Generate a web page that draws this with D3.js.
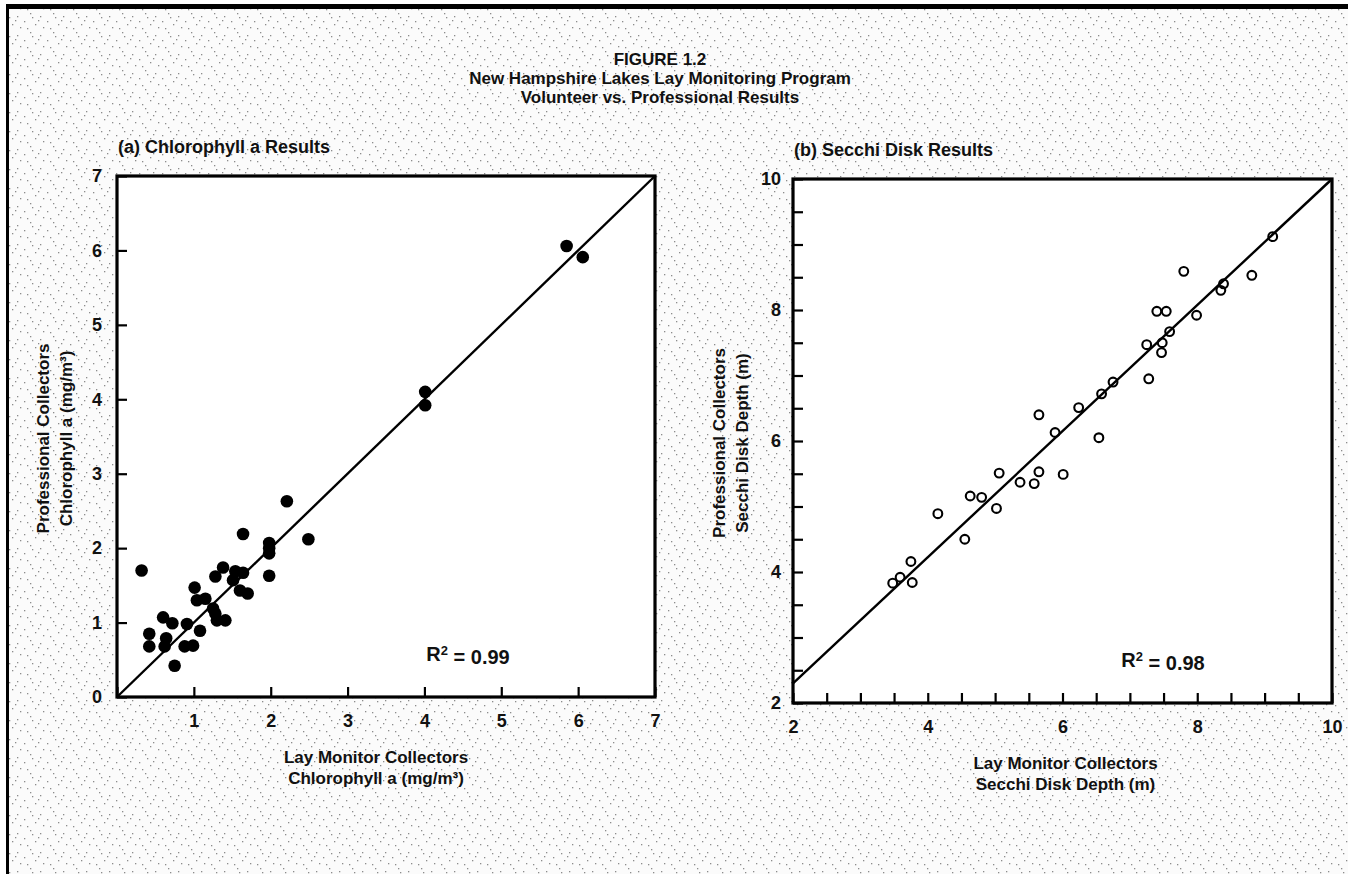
<!DOCTYPE html>
<html>
<head>
<meta charset="utf-8">
<script src="https://cdn.jsdelivr.net/npm/d3@7"></script>
<style>
  body { margin: 0; background: #fff; }
  svg text { font-family: "Liberation Sans Narrow", "Arial Narrow", "Liberation Sans", sans-serif; font-weight: bold; fill: #111; }
</style>
</head>
<body>
<div id="chart"></div>
<script>
/* values */

// (a) chlorophyll a, mg/m3
var chlLay = [0.32, 0.42, 0.42, 0.60, 0.72, 0.64, 0.62, 0.75, 0.91, 0.88, 0.99, 1.08, 1.01, 1.04, 1.15,
              1.25, 1.28, 1.30, 1.41, 1.28, 1.38, 1.51, 1.54, 1.64, 1.60, 1.70, 1.64, 1.98, 1.98, 1.98,
              1.98, 2.21, 2.49, 4.01, 4.01, 5.85, 6.06];
var chlPro = [1.70, 0.85, 0.68, 1.07, 0.99, 0.79, 0.68, 0.42, 0.98, 0.68, 0.69, 0.89, 1.47, 1.30, 1.32,
              1.19, 1.12, 1.03, 1.03, 1.62, 1.74, 1.57, 1.69, 1.67, 1.43, 1.39, 2.19, 2.07, 2.00, 1.93,
              1.63, 2.63, 2.12, 4.10, 3.92, 6.06, 5.91];

// (b) secchi disk depth, m
var secLay = [3.48, 3.59, 3.77, 3.75, 4.15, 4.55, 4.63, 4.80, 5.02, 5.06, 5.37, 5.58, 5.65, 6.01, 5.65,
              5.89, 6.24, 6.54, 6.58, 6.75, 7.28, 7.25, 7.47, 7.48, 7.59, 7.40, 7.54, 7.99, 7.80, 8.35,
              8.39, 8.81, 9.12];
var secPro = [3.83, 3.92, 3.84, 4.16, 4.89, 4.50, 5.16, 5.14, 4.97, 5.51, 5.37, 5.35, 5.53, 5.49, 6.40,
              6.13, 6.51, 6.05, 6.72, 6.90, 6.95, 7.47, 7.35, 7.50, 7.67, 7.98, 7.98, 7.92, 8.59, 8.30,
              8.40, 8.53, 9.12];

// fitted lines, [x0, y0, x1, y1]
var chlFit = [0, 0, 7, 7];
var secFit = [2, 2.3, 10, 10];

var chlTicks = [0, 1, 2, 3, 4, 5, 6, 7];
var secTicks = [2, 2.5, 3, 3.5, 4, 4.5, 5, 5.5, 6, 6.5, 7, 7.5, 8, 8.5, 9, 9.5, 10];
var secLabels = [2, 4, 6, 8, 10];

var titleLines = ['FIGURE 1.2', 'New Hampshire Lakes Lay Monitoring Program', 'Volunteer vs. Professional Results'];

var width = 1348,
    height = 874;

var svg = d3.select('#chart')
  .append('svg')
  .attr('width', width)
  .attr('height', height);

/* speckled paper of the scan */
var pat = svg.append('defs')
  .append('pattern')
  .attr('id', 'speck')
  .attr('width', 23)
  .attr('height', 19)
  .attr('patternUnits', 'userSpaceOnUse');

pat.append('rect').attr('width', 23).attr('height', 19).style('fill', '#fbfbfb');
[[1, 2], [7, 13], [12, 5], [17, 16], [20, 8], [4, 9], [15, 1], [9, 17]].forEach(function(d){
  pat.append('rect')
    .attr('x', d[0]).attr('y', d[1])
    .attr('width', 1.3).attr('height', 1.3)
    .style('fill', '#8c8c8c');
});

svg.append('rect')
  .attr('x', 8).attr('y', 7)
  .attr('width', width - 8).attr('height', height - 7)
  .style('fill', 'url(#speck)');

// page border: heavy rule on top, thin one on the left
svg.append('rect').attr('x', 6).attr('y', 4).attr('width', width - 6).attr('height', 5).style('fill', '#000');
svg.append('rect').attr('x', 6).attr('y', 4).attr('width', 3).attr('height', height - 4).style('fill', '#000');

svg.selectAll('.title')
  .data(titleLines)
  .enter()
  .append('text')
  .attr('class', 'title')
  .attr('x', 660)
  .attr('y', function(d, i){ return 65 + i * 19; })
  .attr('text-anchor', 'middle')
  .style('font-size', '17px')
  .text(function(d){ return d; });

/* one panel */
function drawPanel(opt) {
  var x = d3.scaleLinear().domain(opt.domain).range([opt.l, opt.r]);
  var y = d3.scaleLinear().domain(opt.domain).range([opt.b, opt.t]);

  var g = svg.append('g');

  g.append('text')
    .attr('x', opt.l + 1)
    .attr('y', opt.t - 23)
    .style('font-size', '18px')
    .text(opt.heading);

  g.append('rect')
    .attr('x', opt.l).attr('y', opt.t)
    .attr('width', opt.r - opt.l).attr('height', opt.b - opt.t)
    .style('fill', '#fff');

  var xAxis = d3.axisBottom(x)
    .tickValues(opt.ticks)
    .tickSizeInner(-10)
    .tickSizeOuter(0)
    .tickPadding(17)
    .tickFormat(opt.xFormat);

  var yAxis = d3.axisLeft(y)
    .tickValues(opt.ticks)
    .tickSizeInner(-10)
    .tickSizeOuter(0)
    .tickPadding(opt.yPad)
    .tickFormat(opt.yFormat);

  var gx = g.append('g')
    .attr('transform', 'translate(0,' + opt.b + ')')
    .call(xAxis);
  var gy = g.append('g')
    .attr('transform', 'translate(' + opt.l + ',0)')
    .call(yAxis);

  [gx, gy].forEach(function(a){
    a.select('.domain').remove();
    a.selectAll('line').style('stroke', '#000').style('stroke-width', 2.2);
    a.selectAll('text')
      .style('font-size', '18px')
      .style('font-family', null)
      .attr('fill', '#111');
  });

  g.append('rect')
    .attr('x', opt.l).attr('y', opt.t)
    .attr('width', opt.r - opt.l).attr('height', opt.b - opt.t)
    .style('fill', 'none')
    .style('stroke', '#000')
    .style('stroke-width', 3.2);

  g.append('line')
    .attr('x1', x(opt.fit[0])).attr('y1', y(opt.fit[1]))
    .attr('x2', x(opt.fit[2])).attr('y2', y(opt.fit[3]))
    .style('stroke', '#000')
    .style('stroke-width', 2.4);

  var pts = opt.xs.map(function(v, i){ return {x: v, y: opt.ys[i]}; });

  g.selectAll('.pt')
    .data(pts)
    .enter()
    .append('circle')
    .attr('class', 'pt')
    .attr('cx', function(d){ return x(d.x); })
    .attr('cy', function(d){ return y(d.y); })
    .attr('r', opt.filled ? 6.3 : 4.4)
    .style('fill', opt.filled ? '#000' : 'none')
    .style('stroke', '#000')
    .style('stroke-width', opt.filled ? 0 : 2.1);

  var r2 = g.append('text')
    .attr('x', opt.r2x)
    .attr('y', opt.b - 36)
    .attr('text-anchor', 'middle')
    .style('font-size', '20px');
  r2.append('tspan').text('R');
  r2.append('tspan').attr('dy', '-0.45em').style('font-size', '13px').text('2');
  r2.append('tspan').attr('dy', '0.45em').text(' = ' + opt.r2);

  var cx = (opt.l + opt.r) / 2 + opt.xtShift;
  g.selectAll('.xt')
    .data(opt.xTitle)
    .enter()
    .append('text')
    .attr('x', cx)
    .attr('y', function(d, i){ return opt.b + 66 + i * 21; })
    .attr('text-anchor', 'middle')
    .style('font-size', '17px')
    .text(function(d){ return d; });

  var cy = (opt.t + opt.b) / 2 + 2;
  g.selectAll('.yt')
    .data(opt.yTitle)
    .enter()
    .append('text')
    .attr('transform', function(d, i){ return 'translate(' + (opt.l - 68 + i * 23) + ',' + cy + ') rotate(-90)'; })
    .attr('text-anchor', 'middle')
    .style('font-size', '17px')
    .text(function(d){ return d; });
}

drawPanel({
  heading: '(a)  Chlorophyll a Results',
  domain: [0, 7], l: 117, r: 655, t: 176, b: 697,
  ticks: chlTicks,
  xFormat: function(d){ return d === 0 ? '' : d; },
  yFormat: function(d){ return d; },
  yPad: 15,
  fit: chlFit,
  xs: chlLay, ys: chlPro, filled: true,
  r2: '0.99', r2x: 468,
  xTitle: ['Lay Monitor Collectors', 'Chlorophyll a (mg/m³)'], xtShift: -10,
  yTitle: ['Professional Collectors', 'Chlorophyll a (mg/m³)']
});

drawPanel({
  heading: '(b)  Secchi Disk Results',
  domain: [2, 10], l: 793, r: 1332, t: 179, b: 703,
  ticks: secTicks,
  xFormat: function(d){ return secLabels.indexOf(d) >= 0 ? d : ''; },
  yFormat: function(d){ return secLabels.indexOf(d) >= 0 ? d : ''; },
  yPad: 12,
  fit: secFit,
  xs: secLay, ys: secPro, filled: false,
  r2: '0.98', r2x: 1163,
  xTitle: ['Lay Monitor Collectors', 'Secchi Disk Depth (m)'], xtShift: 3,
  yTitle: ['Professional Collectors', 'Secchi Disk Depth (m)']
});
</script>
</body>
</html>
